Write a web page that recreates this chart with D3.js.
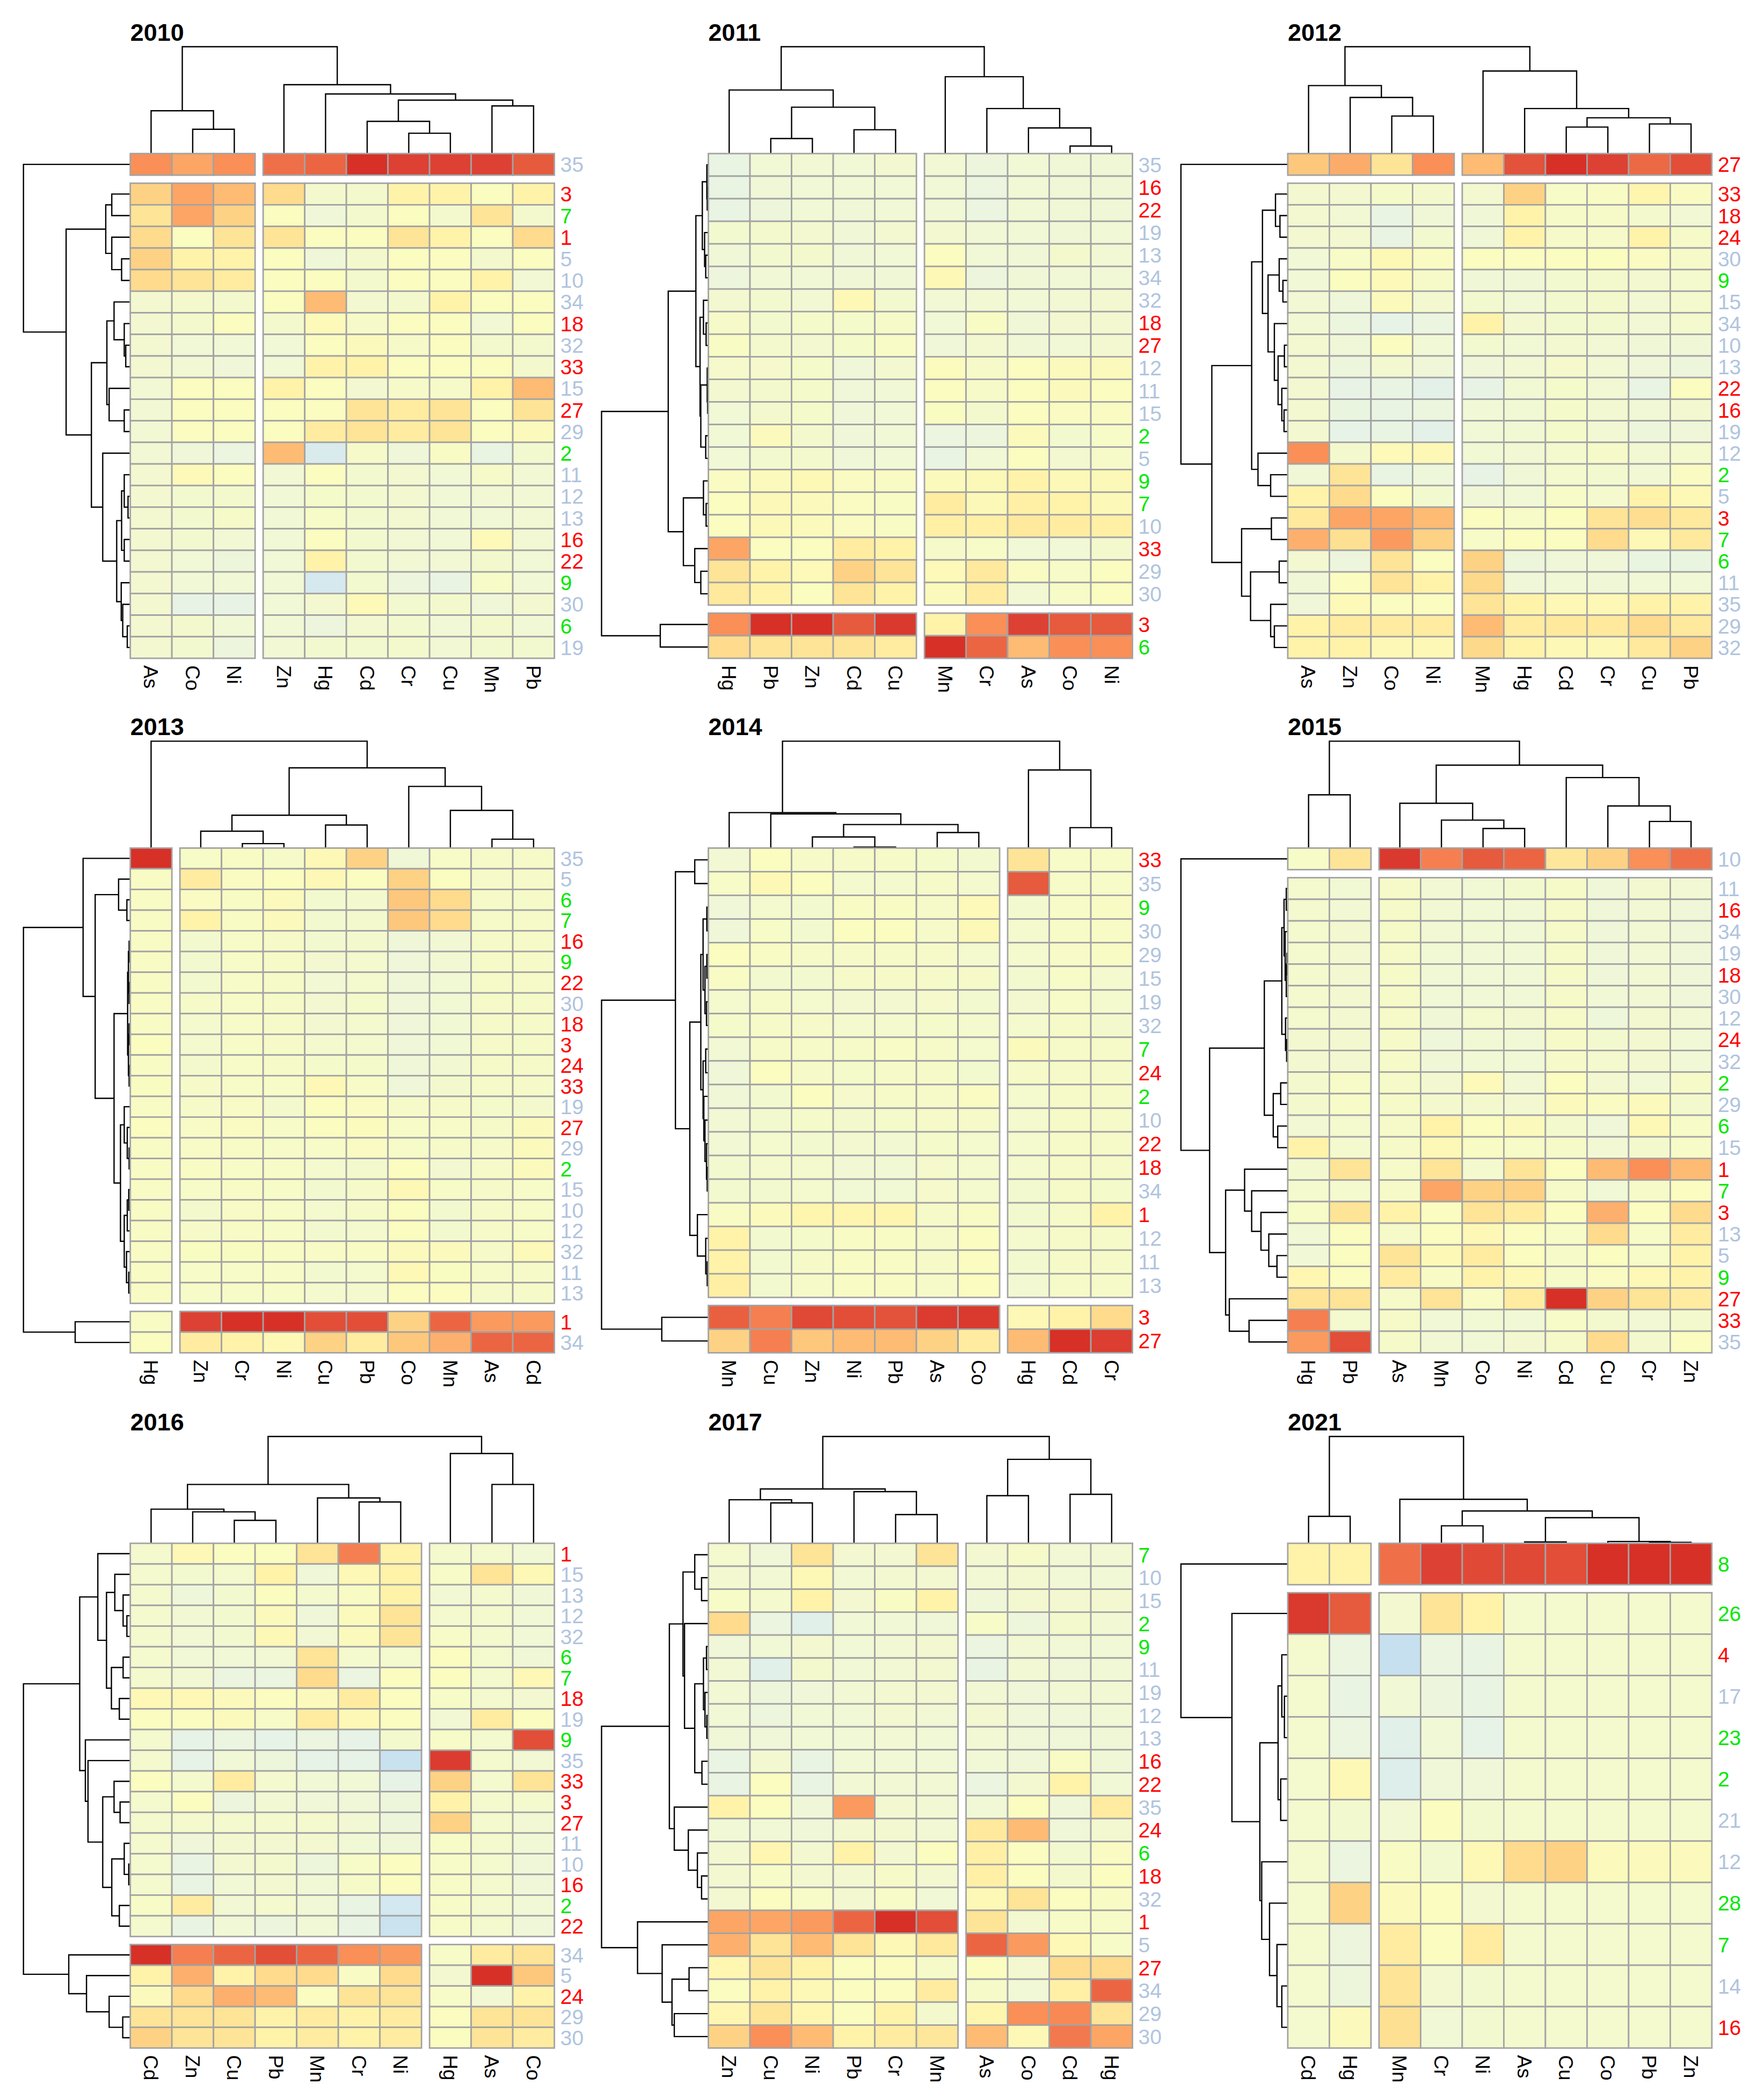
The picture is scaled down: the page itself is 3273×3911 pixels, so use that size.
<!DOCTYPE html>
<html><head><meta charset="utf-8">
<script src="https://cdn.jsdelivr.net/npm/d3@7/dist/d3.min.js"></script>
<style>html,body{margin:0;padding:0;background:#fff}svg{display:block}text{font-family:"Liberation Sans",Arial,sans-serif}</style>
</head><body><div id="chart"></div>
<script>
// ---- colour levels (low = blue, mid = pale yellow, high = red)
const levels = [-3.5,-3,-2,-1,0,1,2,3,4,5,6,7,8,9,10,11];
const levelColors = ["#c6e0ef","#d3e8f0","#e7f3e6","#eff7d8","#f4f9cd","#fafcc0","#fff3aa","#fee496","#fdd284","#fdbb74","#fca565","#fa8f57","#ef6f49","#e65a3d","#dd4133","#d73027"];
// ---- row label groups
const redIds = [1,3,4,16,18,22,24,27,33];
const greenIds = [2,6,7,8,9,23,26,28];

// ---- 2010
const cols2010 = ["As","Co","Ni","Zn","Hg","Cd","Cr","Cu","Mn","Pb"];
const rows2010 = [35,3,7,1,5,10,34,18,32,33,15,27,29,2,11,12,13,16,22,9,30,6,19];
const vals2010 = [
[7,6,7,8,8.5,11,10,10,10,9],
[4,6,5,3.5,0,0,2,2,1,2],
[3,6,4,1,-1,0,1,0,3,0],
[3.5,1,3,3,1,1,3,2,1,3.5],
[4,2,2,1,-1,0,1,1,0,1],
[3.5,3,2.5,1,1,0,1,1,2,-0.5],
[-0.3,0,0,1,5,-0.3,0,2,1,1],
[-0.3,0,1,0,1.3,0.3,1,1,-0.5,1],
[-0.3,-0.7,-0.7,-0.7,1,1.2,0.3,1,0,0],
[-0.3,-0.5,-1,-0.7,2,2,1,1,1,0],
[-0.5,1,1,2,1,-0.3,0.3,0.3,2,5],
[-0.5,1,1,1,1,3,2.5,3,1,3],
[-0.5,1,1,1,2.5,3,2.5,3,1,1.2],
[-0.5,-1,-1.5,5,-2.7,0.3,-1,0.7,-1.7,-0.2],
[-0.3,1.3,1,-0.5,1,-0.2,-0.3,-0.7,0.3,-0.5],
[-0.3,-0.2,0,-0.7,0.2,-0.2,-0.3,-0.7,-0.5,-0.5],
[-0.3,-0.2,0.3,-0.7,0.5,-0.2,-0.3,-0.7,-0.7,-0.5],
[-0.3,-0.2,-0.5,-0.7,1,-0.2,-0.5,-0.7,1.3,-0.5],
[-0.3,-0.7,-1.2,-0.7,2,-0.2,-0.5,-0.5,0,-0.7],
[-0.3,-0.7,-0.7,-0.7,-2.9,-0.2,-1.3,-1.7,0.5,-0.7],
[-0.3,-1.9,-1.9,-0.7,-0.3,1.3,-0.2,0,-1,-0.3],
[-0.3,0,-0.7,-0.7,-1.3,-0.3,-0.2,-0.7,0,-0.7],
[-0.3,-0.2,-1.3,-0.5,-0.2,-0.2,0,-0.5,-0.2,-0.2]];
const colTree2010 = [242,[97,0,[55,1,2]],[156,3,[135,4,[121,[73,5,[46,6,7]],[108,8,9]]]]];
const rowTree2010 = [283,0,[170,[65,[49,1,2],[49,3,[23,4,5]]],[103,[62,[43,6,[16,7,[12,8,9]]],[56,10,[16,11,12]]],[73,13,[36,[23,[16,14,[6,15,16]],[16,17,18]],[24,19,[20,20,[8,21,22]]]]]]]];

// ---- 2011
const cols2011 = ["Hg","Pb","Zn","Cd","Cu","Mn","Cr","As","Co","Ni"];
const rows2011 = [35,16,22,19,13,34,32,18,27,12,11,15,2,5,9,7,10,33,29,30,3,6];
const vals2011 = [
[-1.8,-0.7,-0.5,-0.7,-0.3,-0.5,-1.3,-0.7,-0.8,-0.8],
[-1.8,-0.9,-0.7,-0.7,-0.7,-0.7,-1.5,-0.7,-0.8,-0.8],
[-1.8,-1.2,-0.7,-0.9,-0.7,-0.7,-1.5,-0.7,-0.8,-0.8],
[-0.2,0,-0.3,-0.9,-0.3,-0.3,-0.7,-0.7,-0.8,-0.7],
[-0.8,-0.2,0,-0.9,-0.7,1,-0.7,-0.8,0,-0.5],
[-1.3,-0.7,-0.7,-0.9,-0.9,1.5,-1.3,-0.8,-0.7,-0.7],
[-0.3,-0.2,-0.5,1.5,-0.2,-0.5,-0.5,-0.7,-0.5,-0.3],
[0.3,-0.2,0.2,0.2,0.3,-0.7,0.7,-0.8,-0.3,-0.3],
[0.7,0,-0.3,0.2,0.6,-1,-0.3,-0.8,-0.7,-0.3],
[0.1,0.1,0.2,-1,-0.3,1.1,0.3,1,1.2,1.2],
[-0.3,0,0.2,-1,-0.7,1,0.3,1,1.2,1],
[-0.7,0,0.2,-1,-0.7,0.9,0,1,0.8,0.8],
[-0.7,1.2,0,-1,-0.7,-1.5,-1.3,1.2,-0.2,0.5],
[-0.7,-0.2,0,-1,-0.7,-1.7,-0.7,1,-0.3,0.3],
[0.8,1.2,1.5,0.8,0.7,1.2,1.4,2,1.4,1.4],
[1,1.4,1.2,0.8,0.7,2.5,1.4,2.2,2,1.4],
[1,1.4,1.2,0.8,0.7,2.2,2.2,2.7,2.5,2.2],
[6,1,1,2.5,2,0.3,0.5,-0.7,-0.7,0],
[3,2,1.3,4,3,1.3,2.7,0.8,0.5,1],
[2.7,2,1,3,2,1.2,2.5,-0.5,0.5,1],
[7,11,11,9,10.5,2,7,10,9,9],
[3.5,3,3,3,2.5,11,8.5,5,7,7]];
const colTree2011 = [242,[144,0,[105,[34,1,2],[54,3,4]]],[174,5,[102,6,[58,7,[17,8,9]]]]];
const rowTree2011 = [282,[106,[33,[16,[4,0,[3,1,2]],[10,3,[7,4,5]]],[22,[13,6,[6,7,8]],[20,[3,9,[2,10,11]],[7,12,13]]]],[66,[13,14,[6,15,16]],[36,17,[20,18,19]]]],[127,20,21]];

// ---- 2012
const cols2012 = ["As","Zn","Co","Ni","Mn","Hg","Cd","Cr","Cu","Pb"];
const rows2012 = [27,33,18,24,30,9,15,34,10,13,22,16,19,12,2,5,3,7,6,11,35,29,32];
const vals2012 = [
[4.5,5.7,3,7,5,9.3,11,10,8.3,9.5],
[-0.3,-0.3,0.2,0,-0.3,4,0.5,0.7,1.8,0.8],
[-0.3,-0.5,-1.7,-0.9,-0.8,2,0.3,0.3,0,-0.5],
[-0.3,-0.3,-1.7,-0.2,-0.8,2,0.3,0.3,2,0.3],
[-0.7,0.5,1.5,0.8,1,1,1,1,0.8,0.3],
[-0.7,1,1.3,0.3,-0.8,-0.9,-0.2,0,-0.3,-0.1],
[-0.5,-1.1,1.2,-0.3,-0.2,-0.7,-0.2,0,-0.5,-0.1],
[-0.5,-1.4,-2,-1.5,2,-0.3,-0.2,-0.2,-0.5,-0.1],
[-0.3,-1,1,-0.7,-0.2,-0.6,-0.3,-0.5,-0.9,-0.9],
[-0.3,-1.3,-0.3,-1,-1,-0.5,0.1,-0.5,-1,-1.2],
[-0.3,-1.9,-1.8,-2.2,-1.9,-0.6,0.2,-0.5,-1.7,1],
[-0.3,-1.6,-1.7,-1.4,-0.7,-0.6,0.2,-0.4,-0.7,-0.3],
[-0.3,-2,-1.8,-2.2,-0.7,-0.6,0.2,-0.5,-1.2,-1],
[7,0,1.3,1.5,-0.6,-0.5,-0.1,0.3,-0.4,-0.1],
[-0.9,3,-1.8,-1.1,-1.9,-0.8,-0.1,-0.2,-0.5,0.8],
[2,3.5,1,-0.2,-0.9,-0.7,0.5,-0.1,2,1.5],
[2.7,6,6,5,1,0.5,1,3,3.3,2.7],
[5.5,3.2,6.5,4,0.5,1,1,3.5,1.5,2.7],
[-0.3,-1.3,3,1,4,-1.2,-1,-1,-1.6,-1.6],
[-0.8,1,3,2,3.6,-1,-0.7,-0.8,-0.7,-0.7],
[-1,1.3,1,1,3,2,1.5,1.5,2,2],
[2,2.5,2.5,2.5,5,2.5,2.7,2.7,3.5,2.7],
[2,2,1.5,1.5,3.6,2,1.5,1.5,2.7,4]];
const colTree2012 = [242,[154,0,[127,1,[85,2,3]]],[187,4,[102,5,[81,[60,6,7],[67,8,9]]]]];
const rowTree2012 = [287,0,[204,[97,[68,[33,1,[21,2,3]],[53,[23,4,[13,5,6]],[36,7,[26,[9,8,9],[16,10,[10,11,12]]]]]],[80,13,[46,14,15]]],[124,[44,16,17],[100,[23,18,19],[46,20,[36,21,22]]]]]];

// ---- 2013
const cols2013 = ["Hg","Zn","Cr","Ni","Cu","Pb","Co","Mn","As","Cd"];
const rows2013 = [35,5,6,7,16,9,22,30,18,3,24,33,19,27,29,2,15,10,12,32,11,13,1,34];
const vals2013 = [
[11,0.5,0.7,0.4,1.5,4,-0.9,0.5,0.3,0.3],
[0.7,2.5,0.8,1,1.5,1,4,1,0.3,0.3],
[0.7,0.8,0.7,1.2,-0.2,0,4.5,3.5,0.4,0.4],
[0.7,2,0.7,1.2,-0.2,0,4.5,3.5,0.4,0.4],
[0.7,-0.2,0.5,0.4,-0.2,0,-1,-0.5,0.3,0.4],
[0.7,-0.2,0.5,0.4,-0.3,-0.1,-1,-0.5,0.3,0.4],
[0.7,-0.2,0.5,0.4,-0.5,-0.1,-1,-0.6,0.3,0.4],
[0.7,0.3,0.5,0.4,-0.3,0.2,-1,-0.6,0.3,0.4],
[0.7,-0.1,0.5,0.4,-0.3,-0.1,-1,-0.6,0.3,0.4],
[1,-0.1,0.5,0.4,-0.1,-0.1,-1,-0.6,0.3,0.4],
[0.7,0,0.5,0.4,0.2,0.2,-1,-0.4,0.3,0.4],
[0.9,0.4,0.5,0.5,1.5,0.5,-1,0,0.3,0.4],
[0.7,0.4,0.6,0,1,0.8,0.3,0.4,0.2,0],
[1,0.6,0.8,0.5,1,1.1,0.5,0.5,0.3,1.2],
[0.7,0.6,0.6,0.5,0.5,0.8,0.5,0.4,0.3,1.2],
[0.7,0.7,0.5,0.5,-0.1,0,1,-0.3,0.3,1.2],
[0.7,0.5,0.6,0.5,-0.2,0.4,1.5,0.5,0.3,0.5],
[0.7,0,0.6,0.5,-0.1,0.4,1,-0.2,0.3,0.5],
[0.7,0.4,0.6,0.5,-0.2,-0.1,1,-0.2,0.3,0.5],
[0.7,0.9,0.9,0.7,0.6,0.7,1.2,1.2,0.3,1.3],
[0.7,0.5,0.5,0.5,-0.2,-0.1,1.5,0.9,0.3,0.4],
[0.7,0.5,0.5,0.5,-0.1,-0.1,1,1,0.3,0.3],
[0.7,10,11,11,9.5,9.5,4,8.5,6.5,6.5],
[1,2.5,2,1.5,4,2.5,4.5,5.5,8.5,8.5]];
const colTree2013 = [241,0,[181,[74,[38,1,[10,2,3]],[52,4,5]],[139,6,[85,7,[20,8,9]]]]];
const rowTree2013 = [283,[125,0,[93,[31,1,[9,2,3]],[43,[7,[5,[3,4,5],[3,6,7]],[5,[3,8,9],[3,10,11]]],[26,[16,12,[8,13,[3,14,15]]],[16,[8,[4,16,17],18],[10,19,[4,20,21]]]]]]],[146,22,23]];

// ---- 2014
const cols2014 = ["Mn","Cu","Zn","Ni","Pb","As","Co","Hg","Cd","Cr"];
const rows2014 = [33,35,9,30,29,15,19,32,7,24,2,10,22,18,34,1,12,11,13,3,27];
const vals2014 = [
[-0.5,1,0.3,0.4,0.4,0.2,-0.2,3,0.5,0.5],
[0.5,1.5,1,-0.1,-0.1,0.3,-0.1,9,0.5,0.5],
[-1,-0.1,-0.2,0.7,0.7,0.3,1.3,-0.2,0.5,0.7],
[-1,0.5,-0.2,1,1,0.3,1.4,-0.1,0.5,0.6],
[1,0.7,0.3,0.3,0.4,0.3,-0.1,-0.1,0.5,0.7],
[0.7,-0.2,-0.2,0.3,0.3,0.3,0.3,-0.2,0.5,-0.1],
[-0.1,0.4,-0.1,-0.3,-0.3,0.1,-0.2,-0.3,0.5,-0.1],
[0.2,0.4,0.3,-0.1,-0.1,0.2,-0.1,-0.1,0.4,0],
[-0.5,0.4,0.3,0.4,0.6,0.3,-0.1,1.2,0.4,0.3],
[-1,1,0.3,0.2,0.4,0.3,-0.2,0.3,0.4,0.4],
[-0.9,-0.2,1,0.1,0.4,0.3,0.8,-0.1,0.4,0.4],
[-0.5,-0.2,0.2,0,0.2,0.3,0.3,-0.1,0.4,0.3],
[-0.5,-0.1,-0.2,-0.3,-0.4,0.2,-0.1,-0.1,0.4,0.3],
[-0.2,-0.1,-0.1,-0.5,-0.6,0.1,-0.1,-0.1,0.4,0.3],
[-0.2,-0.2,-0.1,-0.6,-0.6,0.1,-0.1,-0.2,0.4,0.2],
[0.7,1.2,1.8,1.8,1.8,0.3,0.7,-0.2,0.4,2],
[2,-0.2,0.2,0.7,0.7,0.3,1,-0.1,0.4,0.4],
[2,-0.2,0.4,0.7,0.7,0.3,1,-0.2,0.4,0.4],
[2.3,-0.2,0.4,0.7,0.7,0.3,1,-0.4,0.4,0.4],
[8.7,7.5,9.7,9.5,9.3,10.3,10.5,1.5,2,3.5],
[4,7.5,4.5,5,5,4,2.5,5,11,10.2]];
const colTree2014 = [241,[80,0,[77,1,[53,[25,2,[2,3,4]],[35,5,6]]]],[176,7,[46,8,9]]];
const rowTree2014 = [282,[87,[36,0,1],[49,[20,[14,[4,2,3],[9,[4,4,5],[5,6,7]]],[14,[7,8,9],[12,10,[9,11,[5,12,[3,13,14]]]]]],[29,15,[7,16,[3,17,18]]]]],[123,19,20]];

// ---- 2015
const cols2015 = ["Hg","Pb","As","Mn","Co","Ni","Cd","Cu","Cr","Zn"];
const rows2015 = [10,11,16,34,19,18,30,12,24,32,2,29,6,15,1,7,3,13,5,9,27,33,35];
const vals2015 = [
[0.5,3,10.5,7.5,9,8.5,2.8,4,7,8],
[-0.1,-0.6,0.4,-0.5,-0.6,-0.2,0.3,-1,-0.3,-0.5],
[-0.1,-0.5,0.4,-0.5,-0.7,-0.7,0.3,-1,-0.5,-1],
[-0.1,-0.3,0.4,-0.5,-0.6,-0.7,0.3,-1,-0.5,-1],
[-0.1,-0.3,0.4,-0.6,-0.7,-0.7,0.3,-1,-0.5,-1],
[-0.1,-0.3,0.4,-0.7,-0.7,-0.7,0.3,-1,-0.5,-1],
[-0.1,-0.3,0.4,-0.7,-0.7,-0.7,0.3,-0.7,-0.5,-1],
[-0.1,-0.3,0.4,-0.8,-0.1,-0.3,0.3,-1.1,-0.3,-0.5],
[-0.3,-0.3,0.4,-1.1,-0.6,-0.7,0.3,-0.2,-0.3,-0.7],
[-0.3,-0.3,0.4,-0.8,-0.6,-0.7,0.3,-0.1,-0.3,-0.7],
[0,0.5,0.4,-0.3,1.3,-0.5,1,-0.3,-0.7,0.4],
[0,0.5,0.4,0,0,-0.3,1.2,0.8,1.2,0],
[-0.5,-0.1,0.4,2,1,1.2,0,-1,1.5,0.5],
[2,-0.1,0.4,1.5,0.7,0.5,0.3,-0.5,0,0.5],
[-0.2,3,0.4,3,-0.1,3,1,5,7,5],
[-0.1,-0.1,0.4,6,4,4,0.4,-0.7,0.3,1],
[0.5,3,2,1,3,2.5,1,5.5,1,3.5],
[-0.7,1,0.4,1,1.5,1,0.5,3.5,0.5,2.5],
[-0.7,1,3,1.5,2.5,1,0.4,1,0.5,2],
[1.7,1,2.5,0.7,2,1.5,0.3,0.8,1.5,2],
[3,3,0.3,3,0.7,2.5,11,4,3,2.5],
[7.5,-0.1,0.4,-0.7,-0.6,-0.7,0.5,0,-0.5,0],
[6.5,9.5,0.4,-0.5,-0.7,-0.3,0.3,3.5,0,1]];
const colTree2015 = [241,[120,0,1],[187,[101,2,[63,3,[44,4,5]]],[159,6,[95,7,[60,8,9]]]]];
const rowTree2015 = [287,0,[210,[63,[16,[10,[4,1,2],[7,3,[4,[2,4,5],6]]],[6,7,[3,8,9]]],[39,[19,10,11],[27,12,13]]],[167,[116,14,[97,15,[72,16,[51,17,[29,18,19]]]]],[157,20,[104,21,22]]]]];

// ---- 2016
const cols2016 = ["Cd","Zn","Cu","Pb","Mn","Cr","Ni","Hg","As","Co"];
const rows2016 = [1,15,13,12,32,6,7,18,19,9,35,33,3,27,11,10,16,2,22,34,5,24,29,30];
const vals2016 = [
[-0.1,1.5,1,1,3,7.5,2,-0.1,-0.1,-0.7],
[-0.1,-0.2,-0.1,2,-1,1.5,2,0.5,3,1.5],
[-0.1,-1.1,-0.2,1,-0.1,0.7,2,-0.5,-0.1,-0.8],
[-0.1,-0.5,-0.2,1.2,-1,1.2,3,-0.1,-0.1,-0.7],
[-0.1,-0.5,-0.2,1.5,-0.5,1.2,3,0.5,-0.1,-0.7],
[-0.1,-0.7,-0.7,-0.5,3,-0.1,-0.1,1,-0.1,-0.8],
[-0.1,-0.5,-1.5,-1.5,3.5,-1.5,1,1,-0.1,1.5],
[1.5,1.5,1.2,1,1.2,2.5,1,0.5,-0.1,-0.3],
[1,1,1.2,0.5,2.5,1.5,1,-0.5,2.5,1],
[-0.1,-2,-1.5,-2,-1.5,-2,0,0.5,-0.1,9.5],
[-0.1,-2,-0.7,-1.2,-2,-2,-3.4,10.3,-0.1,-0.5],
[1,-0.1,2.5,-0.1,-0.7,-0.7,-2,4,-0.1,3],
[-0.1,1,-1.3,-0.5,-1,-1,-1.2,2,-0.1,-0.1],
[-0.1,-0.1,-0.1,-0.1,-0.1,-0.5,-1.2,4,-0.1,-0.5],
[-0.1,-1,-0.3,-0.3,-0.3,-0.7,-1,0.5,-0.1,-0.7],
[-0.1,-1.7,-0.3,0,-1.2,0.5,1,0.5,-0.1,-1],
[-0.1,-1.7,-0.7,-0.3,-0.7,0.3,1,0.5,-0.1,-1],
[0.5,2.5,-0.5,-0.1,-0.7,-1.7,-3,0.5,-0.1,-0.7],
[-0.1,-1.7,-0.7,-1.3,-0.7,-1.7,-3.3,0.5,-0.1,-1],
[11,7.5,8.5,9.5,8.5,7,6.5,0.5,2.5,3],
[2,5.5,2,3.5,3.5,0.7,3.5,-0.3,11,4.5],
[1.2,3.5,5.5,5,1,3,3,0.5,-0.5,2],
[3,3,3,2,2.5,2,2.5,1,3,3],
[4,3,3,2,2.5,2,2.5,1,3,2.5]];
const colTree2016 = [238,[131,[76,0,[70,1,[51,2,3]]],[101,4,[92,5,6]]],[200,7,[131,8,9]]];
const rowTree2016 = [283,[134,[86,0,[63,[41,1,[19,2,[9,3,4]]],[50,[19,5,6],[29,7,8]]]],[119,9,[112,10,[73,[43,11,[27,12,13]],[49,[16,14,[4,15,16]],[29,17,18]]]]]],[163,19,[116,20,[56,21,[20,22,23]]]]];

// ---- 2017
const cols2017 = ["Zn","Cu","Ni","Pb","Cr","Mn","As","Co","Cd","Hg"];
const rows2017 = [7,10,15,2,9,11,19,12,13,16,22,35,24,6,18,32,1,5,27,34,29,30];
const vals2017 = [
[-0.1,-1,3,-0.3,-0.3,3,-0.3,0.3,-0.5,-0.5],
[-0.3,-0.5,1.5,-0.5,-0.3,-0.3,-0.5,-0.3,-0.7,-0.7],
[0.5,-0.1,2,-0.3,0.7,2,-1,-0.3,-0.3,-0.3],
[3.5,-1.5,-2.3,-0.7,-0.7,-1,0.5,-1.2,0,-0.5],
[-1,-0.7,-0.3,-0.7,-0.5,-0.3,-1.5,-0.5,-0.7,-0.7],
[-0.5,-2.3,0,-0.7,-0.5,-0.3,-1.7,-0.5,-1,-0.7],
[-0.5,-1.2,-1,-0.5,-0.3,-0.3,-0.5,-1,-0.5,-0.5],
[-0.7,-1.3,-0.7,-0.7,-0.3,-0.5,-0.3,-1,-1,-0.7],
[-0.9,-1,-0.7,-0.7,-0.5,-0.7,-0.5,-1,-1,-0.9],
[-1.7,-0.3,-1.7,-0.7,-0.7,-0.7,-0.7,-1,0.7,-0.9],
[-1.7,1,-1.7,-0.5,-0.5,-0.5,-1.5,-0.3,2,-0.7],
[2,1,-1,6.5,-0.3,-0.5,-0.7,1,-1,2.5],
[-0.7,-0.7,-1,-0.3,-0.3,-0.5,2.7,5,-1,-0.3],
[-0.3,1.7,-0.3,2,-0.3,1,2.2,1,-0.2,0.8],
[-0.3,0.5,-0.3,-0.3,0.3,-0.3,2.2,1,0,1],
[-0.3,1,0.5,-0.3,0.5,-0.7,1.5,3,1,0.7],
[6,6,6.5,8.5,11,9.5,3,-0.3,0.5,0.5],
[5.5,3,5,3,1.5,2.7,8.5,6.5,1.5,0.5],
[1.7,3,2,1,1,0.3,1,-0.3,3.5,3.5],
[1,2,1.5,1,1,2.5,0.3,-0.7,2.2,8.5],
[1.7,3,1.7,1,2,0,1.8,7,7.2,3],
[4,7,5,2,2.5,2.8,5,1.5,7.7,6]];
const colTree2017 = [238,[121,[97,0,[90,1,2]],[115,3,[64,4,5]]],[187,[106,6,7],[109,8,9]]];
const rowTree2017 = [282,[103,[67,[36,0,[18,1,2]],[63,3,[36,[13,[5,4,5],[9,6,[4,7,8]]],[17,9,10]]]],[90,11,[53,12,[29,13,[18,14,15]]]]],[187,16,[122,17,[96,[51,18,19],[90,20,21]]]]];

// ---- 2021
const cols2021 = ["Cd","Hg","Mn","Cr","Ni","As","Cu","Co","Pb","Zn"];
const rows2021 = [8,26,4,17,23,2,21,12,28,7,14,16];
const vals2021 = [
[2,2,8,10,9.7,9.7,9.5,11,11,11],
[10.5,9,-0.3,3,2,-0.1,-0.1,-0.1,-0.1,-0.1],
[-0.1,-1.5,-3.5,-1.5,-1.7,-0.1,-0.1,-0.1,-0.1,-0.1],
[-0.1,-1.7,-0.7,-1.3,-1.7,-0.1,-0.1,-0.1,-0.1,-0.1],
[-0.1,-1.5,-2.3,-0.7,-2,-0.1,-0.1,-0.1,-0.1,-0.1],
[-0.1,1.5,-2.5,-1,-1,-0.1,-0.1,-0.1,-0.1,-0.1],
[-0.1,-0.2,-0.5,1,-0.2,-0.1,-0.1,-0.1,-0.1,-0.1],
[-0.1,-1.5,0.7,-0.2,1.5,3.5,4,1.2,1.2,1.2],
[-0.1,4,1.2,1,-0.3,-0.1,-0.1,-0.1,-0.1,-0.1],
[-0.1,-1.3,2.5,1,2.5,-0.1,-0.1,-0.1,-0.1,-0.1],
[-0.1,-1.2,3,-0.3,-0.2,-0.1,-0.1,-0.1,-0.1,-0.1],
[-0.1,1.2,3.2,-0.7,-0.2,-0.1,-0.1,-0.1,-0.1,-0.1]];
const colTree2021 = [238,[60,0,1],[98,2,[72,[39,3,4],[57,[3,5,6],[4,7,[2,8,9]]]]]];
const rowTree2021 = [287,0,[150,1,[75,[26,[16,2,[9,3,4]],[19,5,6]],[70,7,[49,8,[29,9,[16,10,11]]]]]]];

// ---- panel table built from the arrays above
const panels = [
 {year:"2010",cols:cols2010,rows:rows2010,vals:vals2010,colTree:colTree2010,rowTree:rowTree2010,colGap:3,rowGap:1},
 {year:"2011",cols:cols2011,rows:rows2011,vals:vals2011,colTree:colTree2011,rowTree:rowTree2011,colGap:5,rowGap:20},
 {year:"2012",cols:cols2012,rows:rows2012,vals:vals2012,colTree:colTree2012,rowTree:rowTree2012,colGap:4,rowGap:1},
 {year:"2013",cols:cols2013,rows:rows2013,vals:vals2013,colTree:colTree2013,rowTree:rowTree2013,colGap:1,rowGap:22},
 {year:"2014",cols:cols2014,rows:rows2014,vals:vals2014,colTree:colTree2014,rowTree:rowTree2014,colGap:7,rowGap:19},
 {year:"2015",cols:cols2015,rows:rows2015,vals:vals2015,colTree:colTree2015,rowTree:rowTree2015,colGap:2,rowGap:1},
 {year:"2016",cols:cols2016,rows:rows2016,vals:vals2016,colTree:colTree2016,rowTree:rowTree2016,colGap:7,rowGap:19},
 {year:"2017",cols:cols2017,rows:rows2017,vals:vals2017,colTree:colTree2017,rowTree:rowTree2017,colGap:6,rowGap:null},
 {year:"2021",cols:cols2021,rows:rows2021,vals:vals2021,colTree:colTree2021,rowTree:rowTree2021,colGap:2,rowGap:1}
];

// ---- layout
const W = 3273, H = 3911;
const colLefts = [242.7,1319.6,2398.9];
const rowTops = [286,1579.4,2874.2];
const heatW = 790, heatH = 940, gapPx = 15, dendroSize = 199;
const titleOffset = 210;

const color = d3.scaleLinear().domain(levels).range(levelColors).clamp(true);
const svg = d3.select("#chart").append("svg").attr("width",W).attr("height",H).attr("viewBox",[0,0,W,H]);
svg.append("rect").attr("width",W).attr("height",H).attr("fill","#fff");

function labelColor(id){
  return redIds.includes(id) ? "#ff0000" : greenIds.includes(id) ? "#00e800" : "#b0c4de";
}
function gappedBand(n, gapAt, start, size){
  const band = d3.scaleBand().domain(d3.range(n)).range([0, gapAt===null ? size : size-gapPx]);
  const pos = i => start + band(i) + (gapAt!==null && i>=gapAt ? gapPx : 0);
  pos.bandwidth = band.bandwidth;
  return pos;
}
// walks a nested merge tree [height, a, b]; leaves are indices
function layoutTree(node, leafPos, segs){
  if (typeof node === "number") return {p:leafPos(node), h:0};
  const a = layoutTree(node[1], leafPos, segs), b = layoutTree(node[2], leafPos, segs);
  segs.push({a, b, h:node[0]});
  return {p:(a.p+b.p)/2, h:node[0]};
}

panels.forEach((d,i)=>{
  const left = colLefts[i%3], top = rowTops[Math.floor(i/3)];
  const g = svg.append("g").attr("class","panel");
  const x = gappedBand(d.cols.length, d.colGap, left, heatW);
  const y = gappedBand(d.rows.length, d.rowGap, top, heatH);
  const bw = x.bandwidth(), bh = y.bandwidth();

  // top dendrogram
  const hTop = d3.scaleLinear().domain([0,d.colTree[0]]).range([top,top-dendroSize]);
  let segs = [];
  layoutTree(d.colTree, c=>x(c)+bw/2, segs);
  g.append("g").attr("fill","none").attr("stroke","#000").attr("stroke-width",2.4)
    .selectAll("path").data(segs).join("path")
    .attr("d",s=>d3.line()([[s.a.p,hTop(s.a.h)],[s.a.p,hTop(s.h)],[s.b.p,hTop(s.h)],[s.b.p,hTop(s.b.h)]]));

  // left dendrogram
  const hLeft = d3.scaleLinear().domain([0,d.rowTree[0]]).range([left,left-dendroSize]);
  segs = [];
  layoutTree(d.rowTree, r=>y(r)+bh/2, segs);
  g.append("g").attr("fill","none").attr("stroke","#000").attr("stroke-width",2.4)
    .selectAll("path").data(segs).join("path")
    .attr("d",s=>d3.line()([[hLeft(s.a.h),s.a.p],[hLeft(s.h),s.a.p],[hLeft(s.h),s.b.p],[hLeft(s.b.h),s.b.p]]));

  // cells
  const cells = d.vals.flatMap((row,r)=>row.map((v,c)=>({r,c,v})));
  g.append("g").selectAll("rect").data(cells).join("rect")
    .attr("x",e=>x(e.c)).attr("y",e=>y(e.r)).attr("width",bw).attr("height",bh)
    .attr("fill",e=>color(e.v)).attr("stroke","#a3a3a3").attr("stroke-width",2.8);

  // row labels
  g.append("g").selectAll("text").data(d.rows).join("text")
    .attr("x",left+heatW+11).attr("y",(e,r)=>y(r)+bh/2).attr("dy","0.36em")
    .attr("font-size",39).attr("fill",labelColor).text(e=>e);

  // column labels
  g.append("g").selectAll("text").data(d.cols).join("text")
    .attr("transform",(e,c)=>`translate(${x(c)+bw/2},${top+heatH+13}) rotate(90)`)
    .attr("dy","0.36em").attr("font-size",37).attr("fill","#000").text(e=>e);

  // title
  g.append("text").attr("x",left).attr("y",top-titleOffset).attr("font-size",45)
    .attr("font-weight","bold").attr("fill","#000").text(d.year);
});
</script>
</body></html>
